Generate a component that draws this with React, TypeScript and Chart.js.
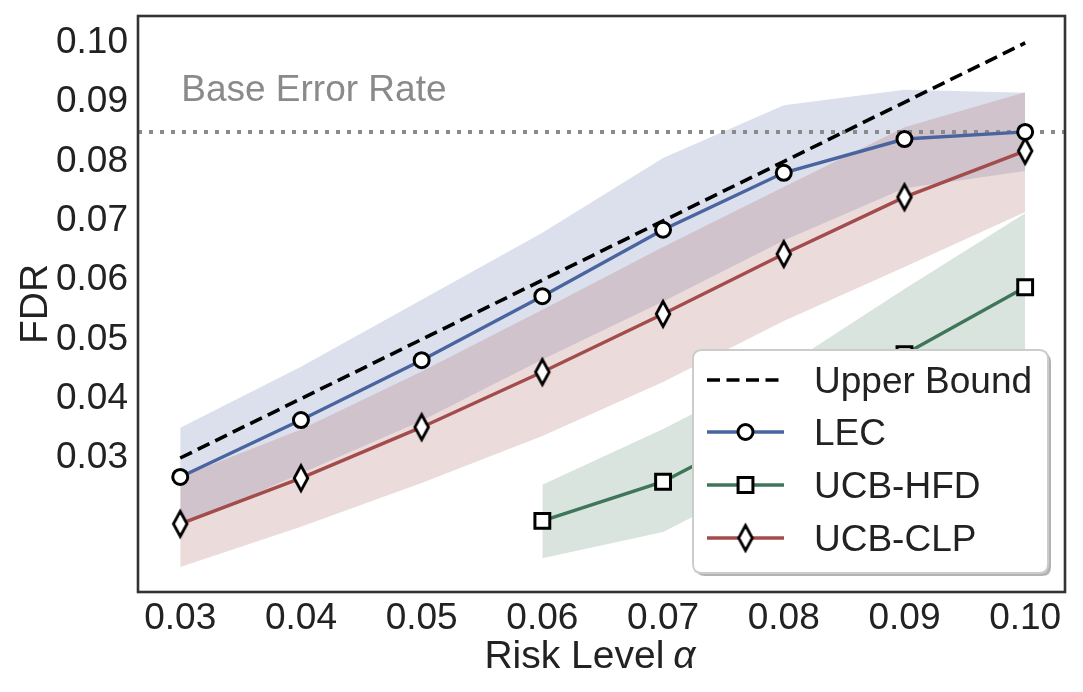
import React, { useEffect, useRef } from 'react';
import { Chart, registerables } from 'chart.js';

Chart.register(...registerables);

// ---------- data ----------
const alpha = [0.03, 0.04, 0.05, 0.06, 0.07, 0.08, 0.09, 0.1];
const upperBound = [0.03, 0.04, 0.05, 0.06, 0.07, 0.08, 0.09, 0.1];
const baseErrorRate = 0.085;

const lec = [0.0268, 0.0364, 0.0465, 0.0573, 0.0685, 0.0781, 0.0838, 0.085];
const lecUpper = [0.0351, 0.0454, 0.0567, 0.068, 0.0806, 0.0895, 0.0921, 0.0916];
const lecLower = [0.0185, 0.0274, 0.0363, 0.0466, 0.0564, 0.0667, 0.0755, 0.0784];

const hfdAlpha = [0.06, 0.07, 0.08, 0.09, 0.1];
const hfd = [0.0194, 0.026, 0.0366, 0.0475, 0.0588];
const hfdUpper = [0.0255, 0.0349, 0.0453, 0.0585, 0.0713];
const hfdLower = [0.0131, 0.0175, 0.0279, 0.0365, 0.0463];

const clp = [0.0189, 0.0266, 0.0352, 0.0445, 0.0543, 0.0644, 0.074, 0.0818];
const clpUpper = [0.0268, 0.0348, 0.0446, 0.055, 0.0656, 0.0757, 0.0858, 0.0917];
const clpLower = [0.0116, 0.0184, 0.0258, 0.0337, 0.0428, 0.0531, 0.0622, 0.0715];

const xTicks = [0.03, 0.04, 0.05, 0.06, 0.07, 0.08, 0.09, 0.1];
const yTicks = [0.03, 0.04, 0.05, 0.06, 0.07, 0.08, 0.09, 0.1];
const xRange = [0.0265, 0.1033];
const yRange = [0.0074, 0.10455];

const legendOrder = ['Upper Bound', 'LEC', 'UCB-HFD', 'UCB-CLP'];
const baseLabel = 'Base Error Rate';
const xTitle = 'Risk Level';
const xTitleSymbol = 'α';
const yTitle = 'FDR';

// ---------- style ----------
const FONT = '"Liberation Sans", Arial, Helvetica, sans-serif';
const FS = 37;
const TITLE_FS = 39;
const TEXT = '#222222';
const BLUE = '#4a64a0';
const GREEN = '#3f765a';
const RED = '#a24c4c';
const GRAY = '#8a8a8a';

const pts = (xs: number[], ys: number[]) => xs.map((x, i) => ({ x, y: ys[i] }));

function makeThinDiamond(): HTMLCanvasElement {
  const c = document.createElement('canvas');
  c.width = 22;
  c.height = 32;
  const ctx = c.getContext('2d')!;
  ctx.beginPath();
  ctx.moveTo(11, 3.5);
  ctx.lineTo(17.8, 16);
  ctx.lineTo(11, 28.5);
  ctx.lineTo(4.2, 16);
  ctx.closePath();
  ctx.fillStyle = '#ffffff';
  ctx.fill();
  ctx.lineWidth = 2.8;
  ctx.strokeStyle = '#000000';
  ctx.lineJoin = 'miter';
  ctx.stroke();
  return c;
}

function roundRect(ctx: CanvasRenderingContext2D, x: number, y: number, w: number, h: number, r: number) {
  ctx.beginPath();
  ctx.moveTo(x + r, y);
  ctx.lineTo(x + w - r, y);
  ctx.quadraticCurveTo(x + w, y, x + w, y + r);
  ctx.lineTo(x + w, y + h - r);
  ctx.quadraticCurveTo(x + w, y + h, x + w - r, y + h);
  ctx.lineTo(x + r, y + h);
  ctx.quadraticCurveTo(x, y + h, x, y + h - r);
  ctx.lineTo(x, y + r);
  ctx.quadraticCurveTo(x, y, x + r, y);
  ctx.closePath();
}

const decorPlugin = {
  id: 'decor',
  afterDraw(chart: any) {
    const ctx: CanvasRenderingContext2D = chart.ctx;
    const { left, right, top, bottom } = chart.chartArea;
    const xs = chart.scales.x;
    const ys = chart.scales.y;
    ctx.save();

    // "Base Error Rate" label
    ctx.font = `${FS}px ${FONT}`;
    ctx.fillStyle = GRAY;
    ctx.textAlign = 'left';
    ctx.textBaseline = 'alphabetic';
    ctx.fillText(baseLabel, xs.getPixelForValue(0.03) + 1, ys.getPixelForValue(baseErrorRate) - 31);

    // frame
    ctx.strokeStyle = '#333333';
    ctx.lineWidth = 2.6;
    ctx.strokeRect(left, top, right - left, bottom - top);

    // y title
    ctx.fillStyle = TEXT;
    ctx.font = `${TITLE_FS}px ${FONT}`;
    ctx.save();
    ctx.translate(33, (top + bottom) / 2);
    ctx.rotate(-Math.PI / 2);
    ctx.textAlign = 'center';
    ctx.textBaseline = 'alphabetic';
    ctx.fillText(yTitle, 0, 13.5);
    ctx.restore();

    // x title with italic alpha
    const gap = 9;
    ctx.font = `${TITLE_FS}px ${FONT}`;
    const w1 = ctx.measureText(xTitle).width;
    ctx.font = `italic ${TITLE_FS}px ${FONT}`;
    const w2 = ctx.measureText(xTitleSymbol).width;
    const cx = 590;
    const startX = cx - (w1 + gap + w2) / 2;
    ctx.textAlign = 'left';
    ctx.textBaseline = 'alphabetic';
    ctx.font = `${TITLE_FS}px ${FONT}`;
    ctx.fillText(xTitle, startX, 668);
    ctx.font = `italic ${TITLE_FS}px ${FONT}`;
    ctx.fillText(xTitleSymbol, startX + w1 + gap, 668);

    // legend
    const bx = 693, by = 350, bw = 355, bh = 223;
    ctx.fillStyle = '#b3b3b3';
    roundRect(ctx, bx + 3, by + 3, bw, bh, 9);
    ctx.fill();
    ctx.fillStyle = '#ffffff';
    roundRect(ctx, bx, by, bw, bh, 9);
    ctx.fill();
    ctx.strokeStyle = '#cccccc';
    ctx.lineWidth = 2;
    ctx.stroke();

    const rowY = [380, 432, 485, 538];
    legendOrder.forEach((label, i) => {
      const ds = chart.data.datasets.find((d: any) => d.label === label);
      if (!ds) return;
      const y = rowY[i];
      ctx.save();
      ctx.strokeStyle = ds.borderColor;
      ctx.lineWidth = ds.borderWidth;
      ctx.setLineDash(ds.borderDash || []);
      ctx.beginPath();
      ctx.moveTo(707, y);
      ctx.lineTo(784, y);
      ctx.stroke();
      ctx.setLineDash([]);
      const mx = 745.5;
      const ps = ds.pointStyle;
      if (ps === 'circle') {
        ctx.beginPath();
        ctx.arc(mx, y, ds.pointRadius, 0, Math.PI * 2);
        ctx.fillStyle = '#fff';
        ctx.fill();
        ctx.lineWidth = ds.pointBorderWidth;
        ctx.strokeStyle = '#000';
        ctx.stroke();
      } else if (ps === 'rect') {
        const s = ds.pointRadius * Math.SQRT1_2;
        ctx.beginPath();
        ctx.rect(mx - s, y - s, 2 * s, 2 * s);
        ctx.fillStyle = '#fff';
        ctx.fill();
        ctx.lineWidth = ds.pointBorderWidth;
        ctx.strokeStyle = '#000';
        ctx.stroke();
      } else if (ps && typeof ps === 'object') {
        ctx.drawImage(ps, mx - ps.width / 2, y - ps.height / 2);
      }
      ctx.restore();
      ctx.fillStyle = TEXT;
      ctx.font = `${FS}px ${FONT}`;
      ctx.textAlign = 'left';
      ctx.textBaseline = 'alphabetic';
      ctx.fillText(label, 814, y + 13);
    });

    ctx.restore();
  },
};

export default function App() {
  const ref = useRef<HTMLCanvasElement | null>(null);

  useEffect(() => {
    document.body.style.margin = '0';
    const canvas = ref.current;
    if (!canvas) return;
    const diamond = makeThinDiamond();

    const band = (data: number[], xsArr: number[], color: string, fill: any, order: number) => ({
      data: pts(xsArr, data),
      borderWidth: 0,
      borderColor: 'rgba(0,0,0,0)',
      backgroundColor: color,
      pointRadius: 0,
      fill,
      order,
      tension: 0,
    });

    const chart = new Chart(canvas, {
      type: 'line',
      data: {
        datasets: [
          band(lecUpper, alpha, 'rgba(74,100,160,0.2)', '+1', 12),
          band(lecLower, alpha, 'rgba(0,0,0,0)', false, 12),
          band(clpUpper, alpha, 'rgba(162,76,76,0.2)', '+1', 11),
          band(clpLower, alpha, 'rgba(0,0,0,0)', false, 11),
          band(hfdUpper, hfdAlpha, 'rgba(63,118,90,0.2)', '+1', 10),
          band(hfdLower, hfdAlpha, 'rgba(0,0,0,0)', false, 10),
          {
            label: baseLabel,
            data: [
              { x: xRange[0], y: baseErrorRate },
              { x: xRange[1], y: baseErrorRate },
            ],
            borderColor: GRAY,
            borderWidth: 4,
            borderDash: [4, 7],
            borderCapStyle: 'butt',
            pointRadius: 0,
            fill: false,
            order: 5,
          },
          {
            label: 'Upper Bound',
            data: pts(alpha, upperBound),
            borderColor: '#000000',
            borderWidth: 3.6,
            borderDash: [13, 6.5],
            borderCapStyle: 'butt',
            pointRadius: 0,
            fill: false,
            order: 4,
          },
          {
            label: 'UCB-HFD',
            data: pts(hfdAlpha, hfd),
            borderColor: GREEN,
            borderWidth: 3.4,
            pointStyle: 'rect',
            pointRadius: 10.5,
            pointBorderWidth: 3,
            pointBackgroundColor: '#ffffff',
            pointBorderColor: '#000000',
            fill: false,
            order: 3,
          },
          {
            label: 'UCB-CLP',
            data: pts(alpha, clp),
            borderColor: RED,
            borderWidth: 3.4,
            pointStyle: diamond,
            pointRadius: 10,
            pointBorderWidth: 2.8,
            pointBackgroundColor: '#ffffff',
            pointBorderColor: '#000000',
            fill: false,
            order: 2,
          },
          {
            label: 'LEC',
            data: pts(alpha, lec),
            borderColor: BLUE,
            borderWidth: 3.4,
            pointStyle: 'circle',
            pointRadius: 7.5,
            pointBorderWidth: 3,
            pointBackgroundColor: '#ffffff',
            pointBorderColor: '#000000',
            fill: false,
            order: 1,
          },
        ] as any,
      },
      options: {
        animation: false,
        responsive: false,
        maintainAspectRatio: false,
        layout: { padding: { top: 16, right: 18, left: 0, bottom: 0 } },
        plugins: {
          legend: { display: false },
          tooltip: { enabled: false },
          title: { display: false },
        },
        elements: { line: { tension: 0 } },
        scales: {
          x: {
            type: 'linear',
            min: xRange[0],
            max: xRange[1],
            afterBuildTicks: (s: any) => {
              s.ticks = xTicks.map((v) => ({ value: v }));
            },
            afterFit: (s: any) => {
              s.height = 100;
              s.paddingLeft = 0;
              s.paddingRight = 0;
            },
            grid: { display: false, drawTicks: false },
            border: { display: false },
            ticks: {
              autoSkip: false,
              maxRotation: 0,
              padding: 5,
              color: TEXT,
              font: { family: FONT, size: FS },
              callback: (v: any) => Number(v).toFixed(2),
            },
          },
          y: {
            type: 'linear',
            min: yRange[0],
            max: yRange[1],
            afterBuildTicks: (s: any) => {
              s.ticks = yTicks.map((v) => ({ value: v }));
            },
            afterFit: (s: any) => {
              s.width = 138;
              s.paddingTop = 0;
              s.paddingBottom = 0;
            },
            grid: { display: false, drawTicks: false },
            border: { display: false },
            ticks: {
              autoSkip: false,
              padding: 10,
              color: TEXT,
              font: { family: FONT, size: FS },
              callback: (v: any) => Number(v).toFixed(2),
            },
          },
        },
      } as any,
      plugins: [decorPlugin],
    });

    return () => {
      chart.destroy();
    };
  }, []);

  return (
    <div style={{ width: 1083, height: 692 }}>
      <canvas ref={ref} width={1083} height={692} style={{ display: 'block', width: 1083, height: 692 }} />
    </div>
  );
}
